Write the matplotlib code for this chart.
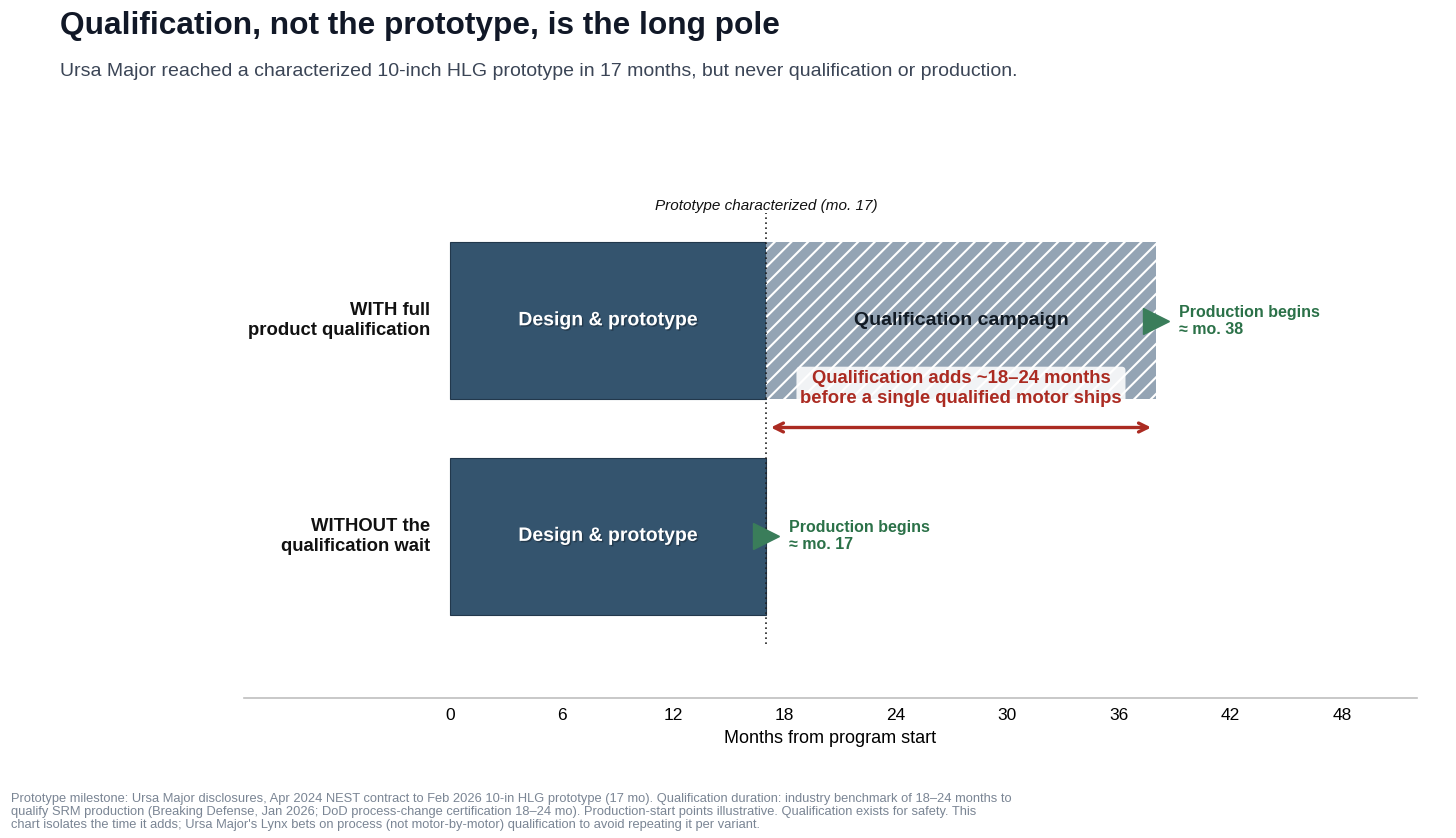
import matplotlib
matplotlib.use("Agg")
from matplotlib import pyplot as plt
import matplotlib.patheffects as pe

plt.rcParams['font.family'] = ['Liberation Sans', 'DejaVu Sans']
plt.rcParams['hatch.color'] = 'white'
plt.rcParams['hatch.linewidth'] = 1.5

# data
rows = ["WITHOUT the\nqualification wait", "WITH full\nproduct qualification"]
design_end = [17, 17]
qual_start = 17
qual_end = 38
prod_start = [17, 38]
ticks = [0, 6, 12, 18, 24, 30, 36, 42, 48]

navy = "#34546e"
grey = "#94a4b4"
green = "#3a7d5a"
red = "#ab2b22"

fig = plt.figure(figsize=(14.56, 8.38), dpi=100)
ax = fig.add_axes([0.1676, 0.167, 0.8056, 0.656])

ypos = [0, 1]
for y, d in zip(ypos, design_end):
    ax.barh(y, d, left=0, height=0.73, color=navy, edgecolor="#22384c", lw=0.8, zorder=2)
    ax.text(d / 2, y, "Design & prototype", ha="center", va="center", color="white",
            fontsize=14, fontweight="bold", zorder=5,
            path_effects=[pe.withSimplePatchShadow(offset=(1, -1), shadow_rgbFace="#1a2a38", alpha=0.6)])

ax.barh(1, qual_end - qual_start, left=qual_start, height=0.73, color=grey,
        hatch="//", edgecolor="white", lw=0, zorder=2)
ax.text((qual_start + qual_end) / 2, 1, "Qualification campaign", ha="center", va="center",
        color="#111a24", fontsize=14, fontweight="bold", zorder=5)

for y, p in zip(ypos, prod_start):
    ax.plot(p, y, marker=">", markersize=19, color=green, zorder=6, clip_on=False)
    ax.text(p + 1.25, y, f"Production begins\n≈ mo. {p}", ha="left", va="center",
            color="#2b7148", fontsize=11.5, fontweight="bold", linespacing=1.15, zorder=6)

# prototype milestone line
ax.plot([17, 17], [-0.5, 1.5], ls=(0, (1, 2)), color="#222222", lw=1.2, zorder=4)
ax.text(17, 1.50, "Prototype characterized (mo. 17)", ha="center", va="bottom",
        fontsize=11, style="italic", color="#111111")

# red arrow + callout
ax.annotate("", xy=(38, 0.505), xytext=(17, 0.505),
            arrowprops=dict(arrowstyle="<->", color=red, lw=2.4, mutation_scale=16,
                            shrinkA=3.5, shrinkB=3.5), zorder=6)
ax.text(27.5, 0.685, "Qualification adds ~18–24 months\nbefore a single qualified motor ships",
        ha="center", va="center", color=red, fontsize=13.3, fontweight="bold", linespacing=1.2,
        bbox=dict(boxstyle="round,pad=0.2", fc="white", ec="none", alpha=0.88), zorder=7)

# row labels
for y, lab in zip(ypos, rows):
    ax.text(-1.1, y, lab, ha="right", va="center", fontsize=13.3, fontweight="bold",
            color="#111111", linespacing=1.2)

ax.set_xlim(-11.1, 52.05)
ax.set_ylim(-0.75, 1.8)
ax.set_xticks(ticks)
ax.set_xticklabels([str(t) for t in ticks], fontsize=12.5)
ax.tick_params(axis="x", length=0, pad=7)
ax.set_yticks([])
for s in ["top", "right", "left"]:
    ax.spines[s].set_visible(False)
ax.spines["bottom"].set_color("#bfbfbf")
ax.spines["bottom"].set_linewidth(1.2)
ax.set_xlabel("Months from program start", fontsize=13, labelpad=5)

fig.text(60 / 1456, 1 - 26 / 838, "Qualification, not the prototype, is the long pole",
         ha="left", va="center", fontsize=22.8, fontweight="bold", color="#111827")
fig.text(60 / 1456, 1 - 72 / 838,
         "Ursa Major reached a characterized 10-inch HLG prototype in 17 months, but never qualification or production.",
         ha="left", va="center", fontsize=14, color="#3b4556")
fig.text(11 / 1456, 1 - 812 / 838,
         "Prototype milestone: Ursa Major disclosures, Apr 2024 NEST contract to Feb 2026 10-in HLG prototype (17 mo). Qualification duration: industry benchmark of 18–24 months to\n"
         "qualify SRM production (Breaking Defense, Jan 2026; DoD process-change certification 18–24 mo). Production-start points illustrative. Qualification exists for safety. This\n"
         "chart isolates the time it adds; Ursa Major's Lynx bets on process (not motor-by-motor) qualification to avoid repeating it per variant.",
         ha="left", va="center", fontsize=9.3, color="#7a8594", linespacing=1.12)

fig.savefig("out.png", dpi=100)
